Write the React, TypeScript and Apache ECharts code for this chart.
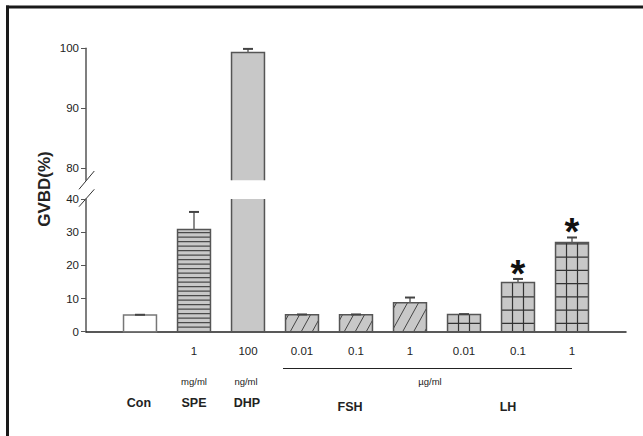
import React, { useEffect, useRef } from "react";
import * as echarts from "echarts";

// ---- data ----
const groups = ["Con", "SPE", "DHP", "FSH", "FSH", "FSH", "LH", "LH", "LH"];
const doses = ["", "1", "100", "0.01", "0.1", "1", "0.01", "0.1", "1"];
const means = [5.0, 30.8, 99.3, 5.1, 5.1, 8.7, 5.2, 14.8, 26.9];
const sems = [0.1, 5.3, 0.6, 0.1, 0.1, 1.6, 0.1, 1.1, 1.5];
const patterns = ["white", "hstripe", "solid", "diag", "diag", "diag", "grid", "grid", "grid"];
const significant = [false, false, false, false, false, false, false, true, true];
const upperTicks = [80, 90, 100];
const lowerTicks = [0, 10, 20, 30, 40];
const groupLabels = [
  { text: "Con", x: 139 },
  { text: "SPE", x: 194 },
  { text: "DHP", x: 247 },
  { text: "FSH", x: 350 },
  { text: "LH", x: 508 },
];
const unitLabels = [
  { text: "mg/ml", x: 194 },
  { text: "ng/ml", x: 246 },
  { text: "\u00b5g/ml", x: 430 },
];

const UPPER_MIN = 78;
const UPPER_MAX = 100;
const LOWER_MAX = 40;
const FONT = "'Liberation Sans', Arial, Helvetica, sans-serif";

const FILL = "#c8c8c8";
const EDGE = "#555";

function makeRenderer(part: "lower" | "upper") {
  return (params: any, api: any) => {
    const x = api.value(0);
    const mean = api.value(1);
    const sem = api.value(2);
    const idx = api.value(3);
    const pat = patterns[idx];
    const clippedTop = part === "lower" && mean > LOWER_MAX;
    const baseVal = part === "lower" ? 0 : UPPER_MIN;
    const topVal = part === "lower" ? Math.min(mean, LOWER_MAX) : mean;
    const pTop = api.coord([x, topVal]);
    const pBase = api.coord([x, baseVal]);
    const bw = api.size([1, 0])[0] * 0.61;
    const xl = pTop[0] - bw / 2;
    const xr = pTop[0] + bw / 2;
    const yt = pTop[1];
    const yb = pBase[1];
    const children: any[] = [];
    children.push({
      type: "rect",
      shape: { x: xl, y: yt, width: bw, height: yb - yt },
      style: { fill: pat === "white" ? "#fff" : FILL, stroke: null },
    });
    const lineStyle = (c: string, w: number) => ({ stroke: c, lineWidth: w });
    if (pat === "hstripe") {
      for (let y = yb - 4.5; y > yt + 1.5; y -= 4.5) {
        children.push({ type: "line", shape: { x1: xl, y1: y, x2: xr, y2: y }, style: lineStyle("#4a4a4a", 1.2) });
      }
    } else if (pat === "diag") {
      const s = 0.55;
      const H = yb - yt;
      for (let a = xl - s * H + 3; a < xr; a += 11) {
        const h0 = Math.max(0, (xl - a) / s);
        const h1 = Math.min(H, (xr - a) / s);
        if (h1 <= h0) continue;
        children.push({
          type: "line",
          shape: { x1: a + s * h0, y1: yb - h0, x2: a + s * h1, y2: yb - h1 },
          style: lineStyle("#444", 1),
        });
      }
    } else if (pat === "grid") {
      for (let k = 1; k <= 2; k++) {
        const vx = xl + (bw * k) / 3;
        children.push({ type: "line", shape: { x1: vx, y1: yt, x2: vx, y2: yb }, style: lineStyle("#333", 1.2) });
      }
      for (let v = 2.5; v < topVal - 0.3; v += 4) {
        const y = api.coord([x, v])[1];
        children.push({ type: "line", shape: { x1: xl, y1: y, x2: xr, y2: y }, style: lineStyle("#333", 1.2) });
      }
    }
    // outline
    const edgeColor = pat === "white" ? "#777" : EDGE;
    if (part === "lower" && clippedTop) {
      children.push({
        type: "polyline",
        shape: { points: [[xl, yt], [xl, yb], [xr, yb], [xr, yt]] },
        style: { stroke: edgeColor, lineWidth: 1.5, fill: null },
      });
    } else if (part === "upper") {
      children.push({
        type: "polyline",
        shape: { points: [[xl, yb], [xl, yt], [xr, yt], [xr, yb]] },
        style: { stroke: edgeColor, lineWidth: 1.5, fill: null },
      });
    } else {
      children.push({
        type: "rect",
        shape: { x: xl, y: yt, width: bw, height: yb - yt },
        style: { fill: null, stroke: edgeColor, lineWidth: 1.5 },
      });
    }
    // error bar
    if (!clippedTop) {
      const pErr = api.coord([x, mean + sem]);
      children.push({
        type: "line",
        shape: { x1: pTop[0], y1: yt, x2: pTop[0], y2: pErr[1] },
        style: lineStyle("#666", 1.5),
      });
      children.push({
        type: "line",
        shape: { x1: pTop[0] - 5, y1: pErr[1], x2: pTop[0] + 5, y2: pErr[1] },
        style: lineStyle("#444", 2),
      });
      if (significant[idx]) {
        children.push({
          type: "text",
          style: {
            text: "*",
            x: pTop[0],
            y: pErr[1] - 5,
            align: "center",
            verticalAlign: "middle",
            fontSize: 38,
            fontWeight: "bold",
            fontFamily: FONT,
            fill: "#111",
          },
        });
      }
    }
    return { type: "group", children };
  };
}

export default function App() {
  const ref = useRef<HTMLDivElement>(null);
  useEffect(() => {
    if (!ref.current) return;
    const chart = echarts.init(ref.current, null, { renderer: "svg" });
    const bars = means.map((m, i) => [i + 1, m, sems[i], i]);
    const upperBars = bars.filter((b) => (b[1] as number) > UPPER_MIN);
    const axisLabelStyle = { fontSize: 11.5, color: "#222", fontFamily: FONT };
    const graphic: any[] = [
      { type: "line", shape: { x1: 7.5, y1: 5.5, x2: 7.5, y2: 436 }, style: { stroke: "#1a1a1a", lineWidth: 3 } },
      { type: "line", shape: { x1: 6, y1: 7, x2: 643, y2: 7 }, style: { stroke: "#1a1a1a", lineWidth: 3 } },
      // axis break marks
      { type: "line", shape: { x1: 79, y1: 189.3, x2: 94.3, y2: 171 }, style: { stroke: "#333", lineWidth: 1 } },
      { type: "line", shape: { x1: 79, y1: 206.7, x2: 94.3, y2: 189.3 }, style: { stroke: "#333", lineWidth: 1 } },
      // y title
      {
        type: "text",
        x: 44,
        y: 189,
        rotation: Math.PI / 2,
        style: {
          text: "GVBD(%)",
          align: "center",
          verticalAlign: "middle",
          fontSize: 17,
          fontWeight: "bold",
          fontFamily: FONT,
          fill: "#222",
        },
      },
      // bracket line under FSH/LH doses
      { type: "line", shape: { x1: 283, y1: 368.5, x2: 572, y2: 368.5 }, style: { stroke: "#222", lineWidth: 1 } },
    ];
    unitLabels.forEach((u) =>
      graphic.push({
        type: "text",
        style: {
          text: u.text,
          x: u.x,
          y: 381,
          align: "center",
          verticalAlign: "middle",
          fontSize: 9.5,
          fontFamily: FONT,
          fill: "#222",
        },
      })
    );
    groupLabels.forEach((g, k) =>
      graphic.push({
        type: "text",
        style: {
          text: g.text,
          x: g.x,
          y: k < 3 ? 403 : 407,
          align: "center",
          verticalAlign: "middle",
          fontSize: 12.5,
          fontWeight: "bold",
          fontFamily: FONT,
          fill: "#222",
        },
      })
    );

    chart.setOption({
      animation: false,
      backgroundColor: "#fff",
      grid: [
        { left: 86, width: 540, top: 48.3, height: 132 },
        { left: 86, width: 540, top: 199, height: 132.7 },
      ],
      xAxis: [
        { type: "value", gridIndex: 0, min: 0, max: 10, show: false },
        {
          type: "value",
          gridIndex: 1,
          min: 0,
          max: 10,
          axisLine: { show: true, lineStyle: { color: "#222", width: 1.5 } },
          axisTick: { show: false },
          splitLine: { show: false },
          axisLabel: {
            ...axisLabelStyle,
            margin: 13,
            customValues: [1, 2, 3, 4, 5, 6, 7, 8, 9],
            formatter: (v: number) => doses[Math.round(v) - 1] ?? "",
          },
        },
      ],
      yAxis: [
        {
          type: "value",
          gridIndex: 0,
          min: UPPER_MIN,
          max: UPPER_MAX,
          axisLine: { show: true, lineStyle: { color: "#555", width: 1.5 } },
          axisTick: { show: true, length: 5, lineStyle: { color: "#555", width: 1 }, customValues: upperTicks },
          axisLabel: { ...axisLabelStyle, margin: 7, customValues: upperTicks },
          splitLine: { show: false },
        },
        {
          type: "value",
          gridIndex: 1,
          min: 0,
          max: LOWER_MAX,
          interval: 10,
          axisLine: { show: true, lineStyle: { color: "#555", width: 1.5 } },
          axisTick: { show: true, length: 5, lineStyle: { color: "#555", width: 1 }, customValues: lowerTicks },
          axisLabel: { ...axisLabelStyle, margin: 7, customValues: lowerTicks },
          splitLine: { show: false },
        },
      ],
      series: [
        {
          type: "custom",
          name: "upper",
          xAxisIndex: 0,
          yAxisIndex: 0,
          data: upperBars,
          renderItem: makeRenderer("upper"),
          clip: false,
          z: 3,
        },
        {
          type: "custom",
          name: "lower",
          xAxisIndex: 1,
          yAxisIndex: 1,
          data: bars,
          renderItem: makeRenderer("lower"),
          clip: false,
          z: 3,
        },
      ],
      graphic,
    });
    return () => chart.dispose();
  }, []);
  return (
    <div
      ref={ref}
      style={{ position: "fixed", left: 0, top: 0, width: 643, height: 436, background: "#fff" }}
    />
  );
}
